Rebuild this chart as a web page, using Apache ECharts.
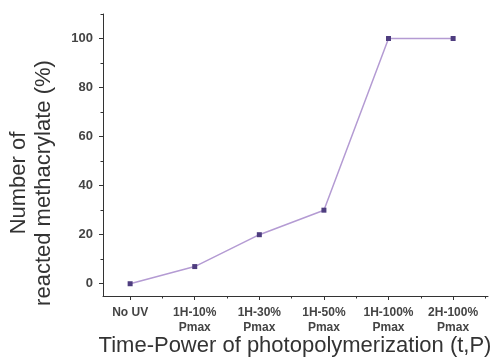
<!DOCTYPE html>
<html>
<head>
<meta charset="utf-8">
<script src="https://cdn.jsdelivr.net/npm/echarts@6/dist/echarts.min.js"></script>
<style>
  html, body { margin: 0; padding: 0; background: #fff; }
  #main { width: 499px; height: 362px; }
</style>
</head>
<body>
<div id="main"></div>
<script>
var categories = ['No UV', '1H-10%\nPmax', '1H-30%\nPmax', '1H-50%\nPmax', '1H-100%\nPmax', '2H-100%\nPmax'];
var reacted = [0, 7, 20, 30, 100, 100];
var yMajor = [0, 20, 40, 60, 80, 100];
var yMinor = [10, 30, 50, 70, 90, 110];
var xMajor = [0, 1, 2, 3, 4, 5];
var xMinor = [0.5, 1.5, 2.5, 3.5, 4.5, 5.5];

var chart = echarts.init(document.getElementById('main'));

var textColor = '#333';
var lineStyle = { color: '#333', width: 1 };
var fontFamily = 'Liberation Sans, Arial, sans-serif';

var seriesData = reacted.map(function (v, i) { return [i, v]; });

var option = {
  animation: false,
  grid: { left: 103, right: 11, top: 14, bottom: 66 },
  xAxis: [{
    type: 'value',
    min: -0.42,
    max: 5.54,
    axisLine: { onZero: false, lineStyle: lineStyle },
    axisTick: { show: true, customValues: xMajor, length: 4, lineStyle: lineStyle },
    axisLabel: {
      customValues: xMajor,
      margin: 9,
      color: '#444',
      fontSize: 12,
      fontWeight: 'bold',
      lineHeight: 15,
      fontFamily: fontFamily,
      formatter: function (v) { return categories[Math.round(v)]; }
    },
    splitLine: { show: false }
  }, {
    type: 'value',
    min: -0.42,
    max: 5.54,
    position: 'bottom',
    axisLine: { show: false, onZero: false },
    axisTick: { show: true, customValues: xMinor, length: 2.5, lineStyle: lineStyle },
    axisLabel: { show: false },
    splitLine: { show: false }
  }],
  yAxis: [{
    type: 'value',
    min: -5,
    max: 110,
    axisLine: { show: true, onZero: false, lineStyle: lineStyle },
    axisTick: { show: true, customValues: yMajor, length: 4, lineStyle: lineStyle },
    axisLabel: {
      customValues: yMajor,
      margin: 10,
      color: '#444',
      fontSize: 13,
      fontWeight: 'bold',
      fontFamily: fontFamily
    },
    splitLine: { show: false }
  }, {
    type: 'value',
    min: -5,
    max: 110,
    position: 'left',
    axisLine: { show: false, onZero: false },
    axisTick: { show: true, customValues: yMinor, length: 2.5, lineStyle: lineStyle },
    axisLabel: { show: false },
    splitLine: { show: false }
  }],
  graphic: [{
    type: 'text',
    x: 31,
    y: 183,
    rotation: Math.PI / 2,
    style: {
      text: 'Number of\nreacted methacrylate (%)',
      fill: textColor,
      font: '22px ' + fontFamily,
      lineHeight: 25,
      align: 'center',
      verticalAlign: 'middle'
    }
  }, {
    type: 'text',
    x: 295,
    y: 346,
    style: {
      text: 'Time-Power of photopolymerization (t,P)',
      fill: textColor,
      font: '22px ' + fontFamily,
      align: 'center',
      verticalAlign: 'middle'
    }
  }],
  series: [{
    type: 'line',
    xAxisIndex: 0,
    yAxisIndex: 0,
    data: seriesData,
    symbol: 'rect',
    symbolSize: 5,
    itemStyle: { color: '#4e3d7f' },
    lineStyle: { color: '#b49bd3', width: 1.5 }
  }]
};

chart.setOption(option);
</script>
</body>
</html>
